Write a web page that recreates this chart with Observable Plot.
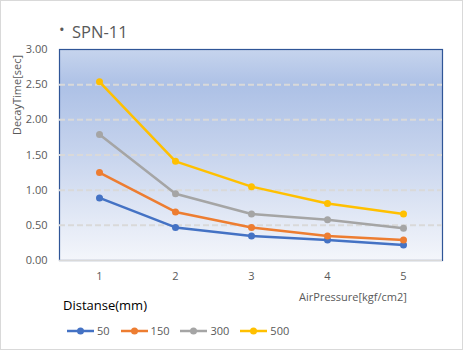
<!DOCTYPE html>
<html>
<head>
<meta charset="utf-8">
<script src="https://cdn.jsdelivr.net/npm/d3@7"></script>
<script src="https://cdn.jsdelivr.net/npm/@observablehq/plot@0.6"></script>
<style>
  body { margin: 0; background: #fff; font-family: "Open Sans", "Noto Sans", sans-serif; }
  #wrap { position: relative; width: 464px; height: 351px; }
  #border { position: absolute; left: 0; top: 0; width: 461px; height: 348px; border: 1px solid #d9d9d9; pointer-events: none; }
  .t { position: absolute; white-space: nowrap; color: #595959; }
  #legend { position: absolute; left: 66px; top: 323px; display: flex; align-items: center; font-size: 11px; color: #595959; }
  #legend .item { display: flex; align-items: center; margin-right: 10px; }
  #legend svg { margin-right: 2px; }
</style>
</head>
<body>
<div id="wrap"></div>
<script>
const title = "SPN-11";
const yTitle = "DecayTime[sec]";
const xTitle = "AirPressure[kgf/cm2]";
const legendTitle = "Distanse(mm)";
const pressure = [1, 2, 3, 4, 5];
const distances = ["50", "150", "300", "500"];
const colors = ["#4472C4", "#ED7D31", "#A5A5A5", "#FFC000"];
const d50 = [0.89, 0.47, 0.35, 0.29, 0.22];
const d150 = [1.25, 0.69, 0.47, 0.35, 0.29];
const d300 = [1.79, 0.95, 0.66, 0.58, 0.46];
const d500 = [2.54, 1.41, 1.05, 0.81, 0.66];
const yTicks = [0, 0.5, 1, 1.5, 2, 2.5, 3];
const gridTicks = [0.5, 1, 1.5, 2, 2.5];

const seriesVals = [d50, d150, d300, d500];
const data = [];
distances.forEach((d, i) => pressure.forEach((p, j) => data.push({series: d, x: p, y: seriesVals[i][j]})));

const chart = Plot.plot({
  width: 464,
  height: 351,
  marginLeft: 59,
  marginRight: 22,
  marginTop: 49,
  marginBottom: 91,
  style: {fontFamily: "'Open Sans', 'Noto Sans', sans-serif", fontSize: "11px", color: "#595959", background: "transparent"},
  x: {type: "point", domain: pressure, padding: 0.5, label: null, tickSize: 0, tickPadding: 12},
  y: {domain: [0, 3], ticks: yTicks, tickFormat: d3.format(".2f"), label: null, tickSize: 0, tickPadding: 12},
  color: {domain: distances, range: colors},
  marks: [
    Plot.frame({fill: "url(#bgGrad)", stroke: "#2F5597", strokeWidth: 1.2}),
    Plot.gridY(gridTicks, {stroke: "#d9d9d9", strokeOpacity: 1, strokeWidth: 2, strokeDasharray: "6,3"}),
    Plot.ruleY([0], {stroke: "#d9d9d9", strokeWidth: 1.5}),
    Plot.line(data, {x: "x", y: "y", z: "series", stroke: "series", strokeWidth: 2.5}),
    Plot.dot(data, {x: "x", y: "y", fill: "series", r: 3.5})
  ]
});

const svg = d3.select(chart);
const defs = svg.insert("defs", ":first-child");
const g = defs.append("linearGradient").attr("id", "bgGrad").attr("x1", 0).attr("y1", 0).attr("x2", 0).attr("y2", 1);
[[0, "#c6d4ed"], [0.17, "#adc1e6"], [0.45, "#c3d1ec"], [1, "#f4f6fb"]].forEach(([o, c]) =>
  g.append("stop").attr("offset", o).attr("stop-color", c));

const wrap = document.getElementById("wrap");
wrap.appendChild(chart);
chart.style.position = "absolute";
chart.style.left = "0";
chart.style.top = "0";

function addText(txt, css) {
  const d = document.createElement("div");
  d.className = "t";
  d.textContent = txt;
  Object.assign(d.style, css);
  wrap.appendChild(d);
  return d;
}
addText("•", {left: "59px", top: "19px", fontSize: "15px"});
addText(title, {left: "72px", top: "20px", fontSize: "16.5px"});
addText(yTitle, {left: "16px", top: "95px", fontSize: "11px", transform: "translate(-50%,-50%) rotate(-90deg)"});
addText(xTitle, {left: "353px", top: "296px", fontSize: "11px", transform: "translate(-50%,-50%)"});
addText(legendTitle, {left: "63px", top: "296px", fontSize: "13px", color: "#000"});

const legend = document.createElement("div");
legend.id = "legend";
distances.forEach((d, i) => {
  const item = document.createElement("div");
  item.className = "item";
  item.innerHTML = `<svg width="29" height="10"><line x1="1" y1="5" x2="28" y2="5" stroke="${colors[i]}" stroke-width="2.5"/><circle cx="14.5" cy="5" r="3.5" fill="${colors[i]}"/></svg><span>${d}</span>`;
  legend.appendChild(item);
});
wrap.appendChild(legend);

const border = document.createElement("div");
border.id = "border";
wrap.appendChild(border);
</script>
</body>
</html>
